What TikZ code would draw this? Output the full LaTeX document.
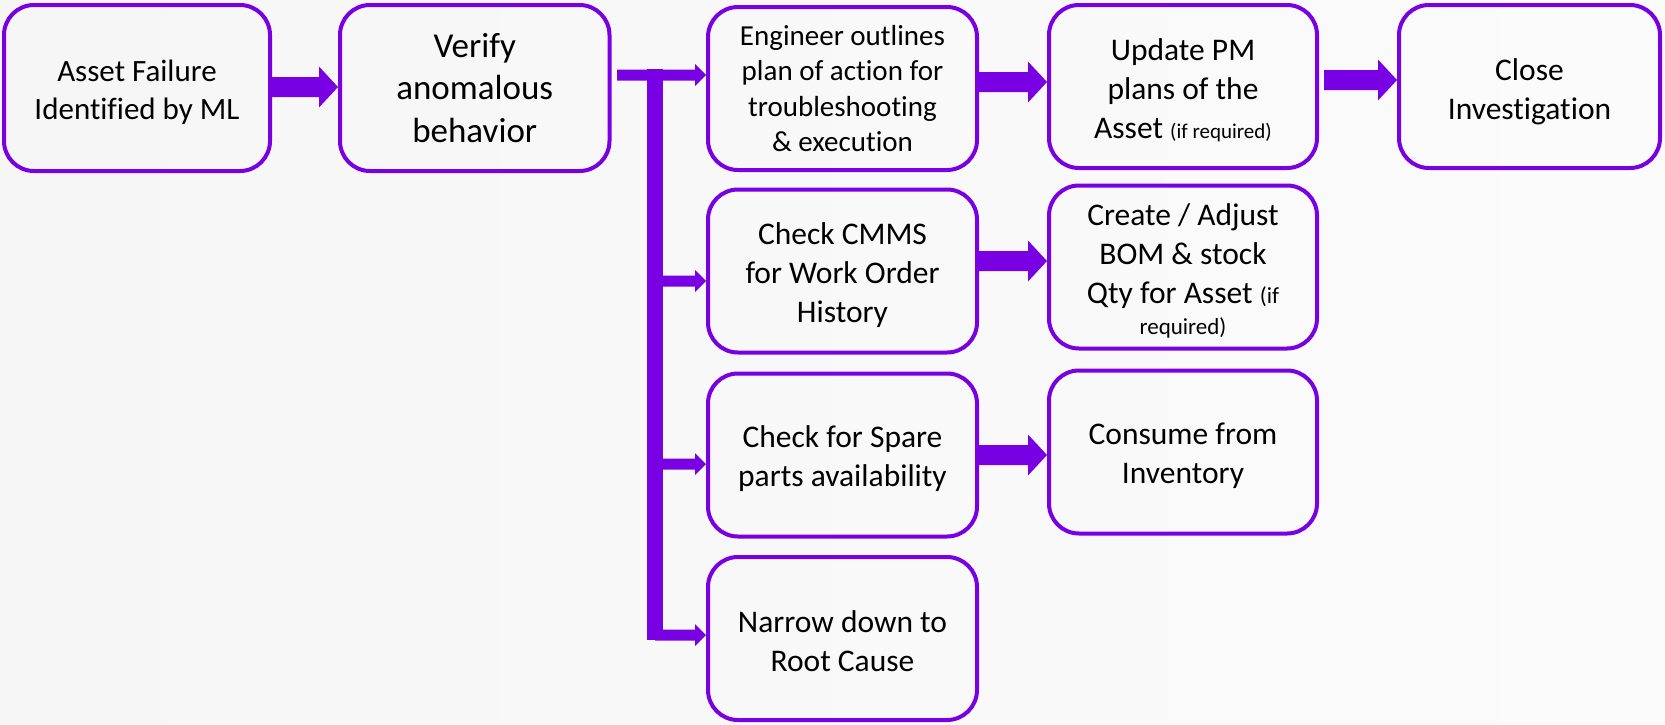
\documentclass[tikz,border=0pt]{standalone}
\usepackage{fontspec}
\setmainfont{Carlito}[Ligatures=NoCommon]
\usetikzlibrary{calc}

\definecolor{flow}{RGB}{122,0,228}
\definecolor{bgleft}{RGB}{246,246,246}
\definecolor{bgright}{RGB}{251,251,251}

\newcommand\notefont{\fontsize{21}{25}\selectfont}
\newcommand\bignotefont{\fontsize{23}{27}\selectfont}
\newcommand\bodyfont{\fontsize{31.5}{39}\selectfont}

% rounded step box #1 at #2, size #3 x #4, with text #6 in font #5 lowered by #7
\newcommand\stage[7]{%
  \node[stagebox, minimum width=#3, minimum height=#4] (#1) at (#2) {};
  \node[stagetext, font=#5] (#1-text) at ($(#1.center)+(0,-#7)$) {#6};}

% thick block arrow between two boxes at height #3, starting #4 past the source box
\newcommand\bigflow[4]{%
  \fill[flow] let \p1=(#1.east), \p2=(#2.west) in
    (\x1+#4,#3+10pt) -- (\x2-19pt,#3+10pt) -- (\x2-19pt,#3+20.5pt) -- (\x2,#3)
    -- (\x2-19pt,#3-20.5pt) -- (\x2-19pt,#3-10pt) -- (\x1+#4,#3-10pt) -- cycle;}

% thin branch arrow from a point on the trunk to a box at height #3
\newcommand\smallflow[3]{%
  \fill[flow] let \p1=(#1), \p2=(#2.west) in
    (\x1,#3+5.5pt) -- (\x2-11pt,#3+5.5pt) -- (\x2-11pt,#3+11pt) -- (\x2,#3)
    -- (\x2-11pt,#3-11pt) -- (\x2-11pt,#3-5.5pt) -- (\x1,#3-5.5pt) -- cycle;}

\tikzset{
  stagebox/.style={draw=flow, line width=4pt, rounded corners=30pt, inner sep=0pt},
  stagetext/.style={align=center, text=black, inner sep=0pt},
}

\begin{document}
\begin{tikzpicture}
  % canvas
  \shade[left color=bgleft, right color=bgright] (0,0) rectangle (1665pt,-724pt);
  \useasboundingbox (0,0) rectangle (1665pt,-724pt);

  % first two steps
  \stage{fail}{137pt,-88pt}{266pt}{166pt}{\fontsize{31}{38}\selectfont}
        {Asset Failure\\Identified by ML}{4pt}
  \stage{verify}{474.75pt,-88pt}{269.5pt}{166pt}{\fontsize{35}{42.5}\selectfont}
        {Verify\\anomalous\\behavior}{0pt}

  % parallel checks
  \stage{plan}{842.5pt,-88.5pt}{269pt}{163pt}{\fontsize{29}{35.5}\selectfont}
        {Engineer outlines\\plan of action for\\troubleshooting\\\& execution}{0pt}
  \stage{cmms}{842.5pt,-271pt}{269pt}{163pt}{\bodyfont}
        {Check CMMS\\for Work Order\\History}{4pt}
  \stage{spare}{842.5pt,-455pt}{269pt}{163pt}{\bodyfont}
        {Check for Spare\\parts availability}{4pt}
  \stage{root}{842.5pt,-638.5pt}{269pt}{163pt}{\bodyfont}
        {Narrow down to\\Root Cause}{3pt}

  % follow-up actions
  \stage{pm}{1183pt,-86.5pt}{268pt}{163pt}{\bodyfont}
        {Update PM\\plans of the\\Asset {\notefont(if required)}}{4pt}
  \stage{bom}{1183pt,-267pt}{268pt}{163pt}{\bodyfont}
        {Create / Adjust\\BOM \& stock\\Qty for Asset {\bignotefont(if}\\[-8pt]{\bignotefont required)}}{4pt}
  \stage{inv}{1183pt,-452pt}{268pt}{163pt}{\bodyfont}
        {Consume from\\Inventory}{4pt}

  \stage{close}{1529.5pt,-86.5pt}{261pt}{163pt}{\bodyfont}
        {Close\\Investigation}{5pt}

  % main flow
  \bigflow{fail}{verify}{-87pt}{0pt}
  \bigflow{plan}{pm}{-82pt}{0pt}
  \bigflow{cmms}{bom}{-261pt}{0pt}
  \bigflow{spare}{inv}{-455pt}{0pt}
  \bigflow{pm}{close}{-80pt}{5pt}

  % fork from the verification step
  \coordinate (feed) at (617pt,-75pt);
  \coordinate (forktop) at (655pt,-69pt);
  \coordinate (forkbot) at (655pt,-640pt);
  \draw[flow, line width=16pt] (forktop) -- (forkbot);
  \smallflow{feed}{plan}{-75pt}
  \smallflow{forkbot}{cmms}{-281pt}
  \smallflow{forkbot}{spare}{-464pt}
  \smallflow{forkbot}{root}{-635pt}
\end{tikzpicture}
\end{document}
